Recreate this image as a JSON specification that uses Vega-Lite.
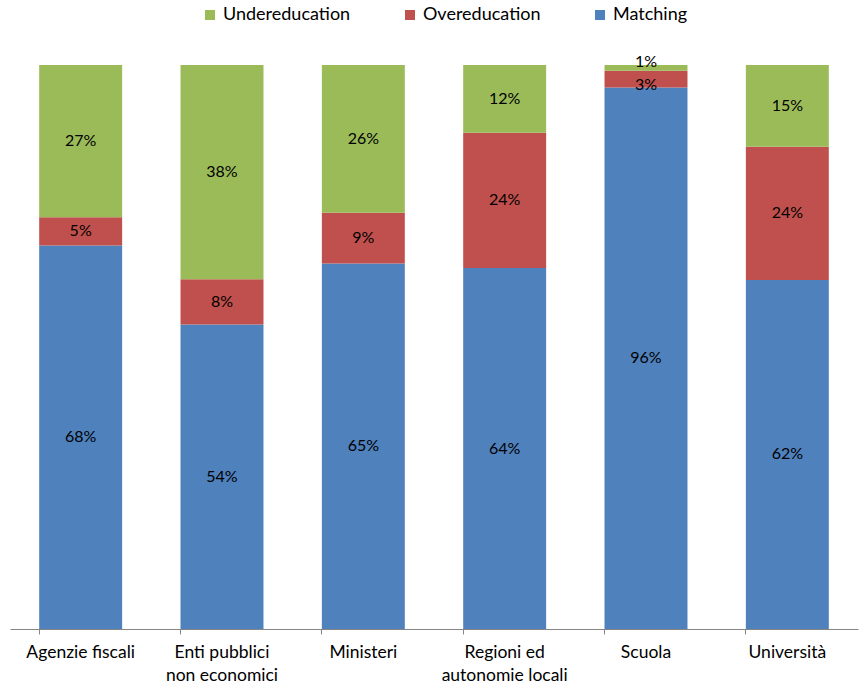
{
  "$schema": "https://vega.github.io/schema/vega-lite/v6.json",
  "autosize": {"type": "none"},
  "padding": {"left": 10, "top": 65, "right": 1, "bottom": 59},
  "width": 848,
  "height": 564,
  "background": "white",
  "config": {"view": {"stroke": null}, "font": "Lato"},
  "data": {"values": [
    {"cat": "Agenzie fiscali", "type": "Matching", "ord": 1, "value": 68},
    {"cat": "Agenzie fiscali", "type": "Overeducation", "ord": 2, "value": 5},
    {"cat": "Agenzie fiscali", "type": "Undereducation", "ord": 3, "value": 27},
    {"cat": "Enti pubblici non economici", "type": "Matching", "ord": 1, "value": 54},
    {"cat": "Enti pubblici non economici", "type": "Overeducation", "ord": 2, "value": 8},
    {"cat": "Enti pubblici non economici", "type": "Undereducation", "ord": 3, "value": 38},
    {"cat": "Ministeri", "type": "Matching", "ord": 1, "value": 64.8},
    {"cat": "Ministeri", "type": "Overeducation", "ord": 2, "value": 9},
    {"cat": "Ministeri", "type": "Undereducation", "ord": 3, "value": 26.2},
    {"cat": "Regioni ed autonomie locali", "type": "Matching", "ord": 1, "value": 64},
    {"cat": "Regioni ed autonomie locali", "type": "Overeducation", "ord": 2, "value": 24},
    {"cat": "Regioni ed autonomie locali", "type": "Undereducation", "ord": 3, "value": 12},
    {"cat": "Scuola", "type": "Matching", "ord": 1, "value": 96},
    {"cat": "Scuola", "type": "Overeducation", "ord": 2, "value": 3},
    {"cat": "Scuola", "type": "Undereducation", "ord": 3, "value": 1},
    {"cat": "Università", "type": "Matching", "ord": 1, "value": 61.9},
    {"cat": "Università", "type": "Overeducation", "ord": 2, "value": 23.6},
    {"cat": "Università", "type": "Undereducation", "ord": 3, "value": 14.5}
  ]},
  "transform": [
    {"stack": "value", "groupby": ["cat"], "sort": [{"field": "ord", "order": "ascending"}], "offset": "normalize", "as": ["y0", "y1"]},
    {"calculate": "(datum.y0 + datum.y1) / 2", "as": "ymid"},
    {"calculate": "round(datum.value) + '%'", "as": "label"}
  ],
  "encoding": {
    "x": {
      "field": "cat", "type": "nominal", "title": null, "sort": null,
      "scale": {"paddingInner": 0.413, "paddingOuter": 0.2065},
      "axis": {
        "labelAngle": 0, "bandPosition": 0, "domainColor": "#868686", "tickColor": "#868686",
        "tickSize": 5, "labelPadding": 9, "labelFontSize": 17.5, "labelColor": "#000000",
        "labelBaseline": "top", "labelLineHeight": 23, "labelFont": "Lato",
        "labelExpr": "datum.value == 'Enti pubblici non economici' ? ['Enti pubblici', 'non economici'] : datum.value == 'Regioni ed autonomie locali' ? ['Regioni ed', 'autonomie locali'] : datum.value"
      }
    }
  },
  "layer": [
    {
      "mark": {"type": "bar"},
      "encoding": {
        "y": {"field": "y0", "type": "quantitative", "scale": {"domain": [0, 1], "nice": false}, "axis": null},
        "y2": {"field": "y1"},
        "color": {
          "field": "type", "type": "nominal",
          "scale": {"domain": ["Undereducation", "Overeducation", "Matching"], "range": ["#9BBB59", "#C0504D", "#4F81BD"]},
          "legend": {
            "title": null, "orient": "none", "direction": "horizontal", "legendX": 191, "legendY": -59,
            "symbolType": "square", "symbolSize": 100, "symbolStrokeWidth": 0, "labelFontSize": 18, "labelFont": "Lato",
            "labelColor": "#000000", "columnPadding": 50, "labelOffset": 4
          }
        }
      }
    },
    {
      "transform": [{"filter": "datum.cat != 'Scuola' || datum.type == 'Matching'"}],
      "mark": {"type": "text", "fontSize": 16, "color": "#000000", "baseline": "middle", "font": "Lato"},
      "encoding": {
        "y": {"field": "ymid", "type": "quantitative", "scale": {"domain": [0, 1], "nice": false}},
        "text": {"field": "label", "type": "nominal"}
      }
    },
    {
      "transform": [{"filter": "datum.cat == 'Scuola' && datum.type == 'Undereducation'"}],
      "mark": {"type": "text", "fontSize": 16, "color": "#000000", "baseline": "middle", "font": "Lato", "dy": -6},
      "encoding": {
        "y": {"field": "ymid", "type": "quantitative", "scale": {"domain": [0, 1], "nice": false}},
        "text": {"field": "label", "type": "nominal"}
      }
    },
    {
      "transform": [{"filter": "datum.cat == 'Scuola' && datum.type == 'Overeducation'"}],
      "mark": {"type": "text", "fontSize": 16, "color": "#000000", "baseline": "middle", "font": "Lato", "dy": 6},
      "encoding": {
        "y": {"field": "ymid", "type": "quantitative", "scale": {"domain": [0, 1], "nice": false}},
        "text": {"field": "label", "type": "nominal"}
      }
    }
  ]
}
